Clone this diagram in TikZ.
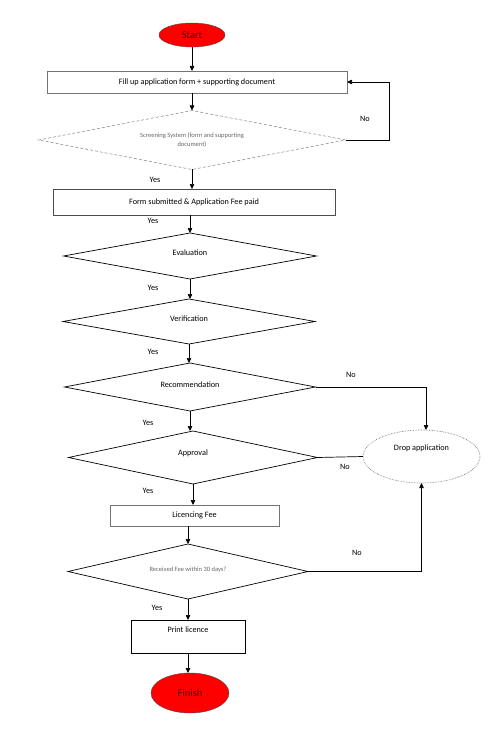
\documentclass[tikz,border=0pt]{standalone}
\usepackage{fontspec}
\setmainfont{Carlito}
\usetikzlibrary{shapes.geometric,arrows.meta}

\begin{document}
\begin{tikzpicture}[
  x=1pt,y=-1pt,
  txt/.style={font=\fontsize{8.2}{9.8}\selectfont},
  small/.style={font=\fontsize{6.5}{9}\selectfont, text=black!60},
  terminal/.style={ellipse, draw=black!70, fill=red, inner sep=0pt, outer sep=0pt, font=\fontsize{10.5}{12}\selectfont, text=red!25!black},
  process/.style={rectangle, draw=black!55, inner sep=0pt, outer sep=0pt, align=center, txt},
  decision/.style={diamond, draw, line width=0.7pt, inner sep=0pt, outer sep=0pt, align=center, txt},
  arrow/.style={-{Triangle[length=5pt,width=4.5pt]}, line width=0.7pt},
  link/.style={line width=0.7pt}
]
\useasboundingbox (0,0) rectangle (500,746);

\node[terminal, minimum width=66pt, minimum height=24pt] (start) at (192,35) {Start};
\node[process, minimum width=300pt, minimum height=22pt] (fillup) at (197,82) {Fill up application form + supporting document};
\node[decision, draw=black!50, densely dashed, line width=0.5pt, small, shape aspect=5.2, minimum width=307pt, minimum height=59pt] (screen) at (192,140) {Screening System (form and supporting\\document)};
\node[process, draw=black!70, minimum width=282pt, minimum height=26pt] (submit) at (194,202) {Form submitted \& Application Fee paid};
\node[decision, shape aspect=5.5, minimum width=253pt, minimum height=46pt] (eval) at (190,256) {\raisebox{1pt}[0pt][0pt]{Evaluation}};
\node[decision, shape aspect=5.5, minimum width=252pt, minimum height=45pt] (verif) at (189,321.5) {\raisebox{0pt}[0pt][0pt]{Verification}};
\node[decision, shape aspect=5.2, minimum width=251pt, minimum height=48pt] (recom) at (190,387) {\raisebox{0pt}[0pt][0pt]{Recommendation}};
\node[decision, shape aspect=4.7, minimum width=249pt, minimum height=53pt] (appr) at (193,457.5) {\raisebox{2pt}[0pt][0pt]{Approval}};
\node[ellipse, draw=black!60, densely dotted, line width=0.6pt, inner sep=0pt, outer sep=0pt, txt, minimum width=117pt, minimum height=53pt] (drop) at (421.5,456.5) {\raisebox{6pt}[0pt][0pt]{Drop application}};
\node[process, minimum width=169pt, minimum height=21pt] (fee) at (194.5,515.5) {Licencing Fee};
\node[decision, small, shape aspect=4.4, minimum width=240pt, minimum height=55pt] (recv) at (188,571.5) {\raisebox{0pt}[0pt][0pt]{Received Fee within 30 days?}};
\node[process, draw=black, minimum width=114pt, minimum height=33pt] (print) at (188,636.5) {\raisebox{4pt}[0pt][0pt]{Print licence}};
\node[terminal, minimum width=78pt, minimum height=40pt] (finish) at (190,693) {Finish};

\coordinate (loop) at (389,140);
\coordinate (dropin) at ([xshift=4.5pt]drop.north);

\draw[arrow] (start.south) -- (start.south |- fillup.north);
\draw[arrow] (screen.north |- fillup.south) -- (screen.north);
\draw[arrow] (screen.east) -- (loop) |- (fillup.east);
\draw[arrow] (screen.south) -- (screen.south |- submit.north);
\draw[arrow] (eval.north |- submit.south) -- (eval.north);
\draw[arrow] (eval.south) -- (eval.south |- verif.north);
\draw[arrow] (verif.south) -- (verif.south |- recom.north);
\draw[arrow] (recom.east) -| (dropin);
\draw[arrow] (recom.south) -- (recom.south |- appr.north);
\draw[link] (appr.east) -- (drop.west);
\draw[arrow] (appr.south) -- (appr.south |- fee.north);
\draw[arrow] (recv.north |- fee.south) -- (recv.north);
\draw[arrow] (recv.east) -| (drop.south);
\draw[arrow] (recv.south) -- (recv.south |- print.north);
\draw[arrow] (print.south) -- (print.south |- finish.north);

\node[txt] (no1) at (365,119) {No};
\node[txt] (yes1) at (155,180) {Yes};
\node[txt] (yes2) at (153,221) {Yes};
\node[txt] (yes3) at (153,288) {Yes};
\node[txt] (yes4) at (153,352) {Yes};
\node[txt] (no2) at (351,375) {No};
\node[txt] (yes5) at (148,423) {Yes};
\node[txt] (no3) at (345,467) {No};
\node[txt] (yes6) at (148,491) {Yes};
\node[txt] (no4) at (357,553) {No};
\node[txt] (yes7) at (157,608) {Yes};
\end{tikzpicture}
\end{document}
